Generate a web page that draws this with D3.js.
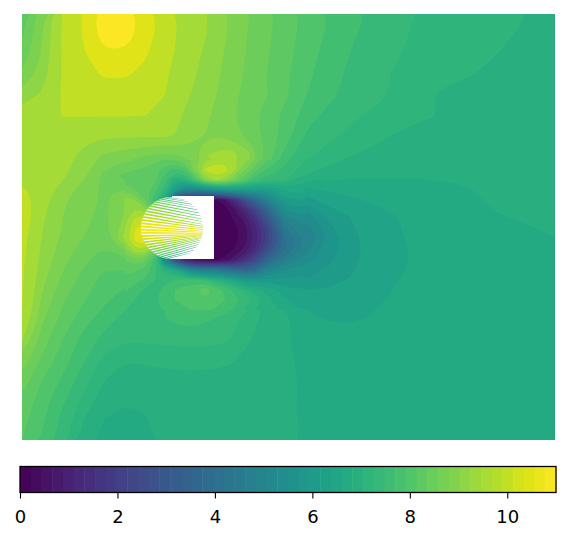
<!DOCTYPE html>
<html>
<head>
<meta charset="utf-8">
<script src="https://cdn.jsdelivr.net/npm/d3@7"></script>
<style>
    html, body { margin: 0; padding: 0; background: #fff; }
    svg { display: block; }
</style>
</head>
<body>
<div id="chart"></div>
<script>
// contour band edges as they look in the plot
const levels = [0, 0.25, 0.6, 0.95, 1.3, 1.65, 2, 2.35, 2.7, 3.05, 3.4, 3.75, 4.1, 4.45, 4.8, 5.15, 5.5, 5.85, 6.2, 6.55,
    6.85, 7.05, 7.25, 7.5, 7.8, 8.1, 8.4, 8.7, 9.0, 9.3, 9.7, 10.2, 10.7, 11.2];

const colorbarTicks = [0, 2, 4, 6, 8, 10];
const colorbarLevelCount = 50;

// whole field, read on a coarse grid (27 columns, 22 rows, top row first)
const fieldRows = [
    [8.25,8.9,9.75,10.25,11,11,10.45,9.95,9.5,9.32,9.0,8.73,8.47,8.23,7.98,7.79,7.6,7.47,7.36,7.26,7.22,7.18,7.15,7.12,7.08,7.04,7.0],
    [8.35,9.0,9.75,10.25,10.95,11,10.45,9.95,9.5,9.3,9.0,8.7,8.45,8.2,7.95,7.75,7.55,7.42,7.33,7.24,7.2,7.16,7.13,7.1,7.05,7.01,6.98],
    [8.5,9.05,9.75,10.15,10.6,10.6,10.25,9.9,9.45,9.25,8.95,8.68,8.42,8.17,7.9,7.68,7.5,7.38,7.3,7.2,7.16,7.12,7.09,7.06,7.01,6.98,6.95],
    [8.75,9.15,9.75,10.02,10.25,10.25,10.1,9.75,9.4,9.2,8.9,8.65,8.38,8.12,7.85,7.6,7.45,7.34,7.25,7.16,7.12,7.08,7.05,7.01,6.98,6.95,6.93],
    [9.15,9.35,9.75,9.9,9.95,9.95,9.85,9.7,9.35,9.15,8.85,8.6,8.4,8.1,7.77,7.56,7.42,7.35,7.24,7.12,7.05,7.01,6.98,6.95,6.93,6.91,6.9],
    [9.5,9.55,9.72,9.72,9.72,9.72,9.71,9.55,9.25,9.05,8.8,8.55,8.25,7.97,7.6,7.42,7.3,7.22,7.13,7.1,7.06,7.02,6.97,6.93,6.91,6.9,6.89],
    [9.65,9.6,9.5,9.4,9.35,9.35,9.35,9.35,9.25,8.98,8.95,8.6,8.3,7.9,7.42,7.3,7.2,7.13,7.05,7.0,6.97,6.95,6.93,6.91,6.9,6.89,6.88],
    [9.6,9.55,9.45,9.2,8.95,8.85,8.7,8.6,8.75,9.3,9.6,9.2,8.3,7.55,7.28,7.15,7.05,7.0,6.98,6.95,6.93,6.92,6.91,6.9,6.89,6.88,6.88],
    [9.6,9.5,9.35,9.05,8.6,8.3,8.2,7.5,7.9,8.9,9.2,8.8,7.95,7.25,7.0,6.95,6.9,6.88,6.87,6.87,6.88,6.89,6.9,6.9,6.9,6.9,6.9],
    [9.9,9.45,9.05,8.85,8.65,9.0,8.4,6.5,1.0,0.3,0.4,2.7,4.6,5.95,6.2,6.42,6.55,6.6,6.66,6.7,6.72,6.75,6.82,6.9,6.94,6.97,6.98],
    [10.0,9.35,9.0,8.8,8.6,9.0,9.9,8,0.5,0,0.05,0.8,2.6,5.1,5.3,5.95,6.2,6.4,6.52,6.6,6.65,6.7,6.76,6.82,6.87,6.92,6.95],
    [9.85,9.28,8.95,8.7,8.55,9.4,10.7,9,0.3,0,0.02,0.45,2.0,4.0,4.85,5.55,6.05,6.35,6.5,6.58,6.6,6.62,6.65,6.68,6.72,6.78,6.85],
    [9.78,9.2,8.8,8.5,8.25,8.4,8.5,6.5,1.0,0.2,0.3,1.4,3.4,4.7,5.35,5.75,6.05,6.3,6.48,6.55,6.58,6.6,6.62,6.64,6.66,6.68,6.7],
    [9.75,9.1,8.65,8.3,8.0,7.95,7.8,7.4,7.9,7.6,6.9,6.0,5.6,5.8,5.85,6.0,6.2,6.4,6.52,6.58,6.62,6.65,6.68,6.7,6.7,6.7,6.7],
    [9.72,8.95,8.45,8.15,7.9,7.65,7.45,7.5,7.9,8.05,7.9,7.45,6.95,6.6,6.42,6.4,6.42,6.5,6.56,6.6,6.65,6.67,6.68,6.7,6.7,6.7,6.7],
    [9.7,8.75,8.3,7.95,7.65,7.42,7.35,7.5,7.65,7.55,7.4,7.15,6.98,6.87,6.6,6.53,6.52,6.56,6.62,6.65,6.66,6.67,6.68,6.7,6.7,6.7,6.7],
    [9.35,8.55,8.1,7.7,7.42,7.28,7.3,7.32,7.35,7.35,7.3,7.08,6.96,6.86,6.72,6.65,6.65,6.65,6.66,6.67,6.68,6.68,6.69,6.7,6.7,6.7,6.7],
    [8.9,8.35,7.95,7.55,7.2,7.06,7.08,7.1,7.12,7.11,7.1,7.0,6.92,6.88,6.78,6.7,6.7,6.7,6.7,6.7,6.7,6.7,6.7,6.7,6.7,6.7,6.7],
    [8.6,8.1,7.75,7.35,7.06,6.98,6.98,7.0,7.0,7.0,6.98,6.95,6.92,6.9,6.78,6.7,6.7,6.7,6.7,6.7,6.7,6.7,6.7,6.7,6.7,6.7,6.7],
    [8.35,7.95,7.55,7.2,6.95,6.87,6.9,6.95,6.96,6.96,6.95,6.94,6.92,6.9,6.78,6.7,6.7,6.7,6.7,6.7,6.7,6.7,6.7,6.7,6.7,6.7,6.7],
    [8.2,7.85,7.4,7.05,6.85,6.78,6.83,6.95,6.96,6.96,6.95,6.94,6.92,6.9,6.78,6.7,6.7,6.7,6.7,6.7,6.7,6.7,6.7,6.7,6.7,6.7,6.7],
    [8.1,7.75,7.35,6.95,6.8,6.75,6.8,6.9,6.95,6.95,6.95,6.94,6.92,6.92,6.8,6.7,6.7,6.7,6.7,6.7,6.7,6.7,6.7,6.7,6.7,6.7,6.7]
];

// closer reading round the body and the start of the wake (19 columns, 16 rows)
const nearRows = [
    [8.78,8.7,8.64,8.5,8.38,8.4,8.54,8.9,9.22,9.45,9.52,9.35,9.12,8.7,8.23,7.9,7.62,7.38,7.25],
    [8.5,8.4,8.3,8.2,7.9,7.7,7.9,8.9,9.75,10.1,9.9,9.35,8.7,8.2,7.8,7.6,7.4,7.27,7.2],
    [8.3,8.2,8.25,8.2,7.6,6.9,7.1,7.8,8.9,9.35,9.15,8.6,8.1,7.6,7.35,7.3,7.25,7.0,6.95],
    [8.6,8.4,8.25,7.9,7.3,6.0,5.0,5.0,5.2,5.6,5.9,5.95,6.0,6.05,6.1,6.3,6.65,6.68,6.72],
    [9.2,9.0,8.4,7.5,6.6,2.0,1.0,0.5,0.3,0.15,0.5,1.5,2.7,3.7,4.6,5.4,6.05,6.15,6.25],
    [9.1,9.3,9.2,8,6,3,1,0.5,0.2,0.05,0.1,0.6,1.3,2.2,3.3,4.5,5.5,5.65,5.75],
    [9.2,9.8,10.2,9,6,3,1,0.5,0.1,0.02,0.03,0.3,0.7,1.5,2.5,3.7,4.9,5.15,5.35],
    [9.3,10.2,10.7,9.5,6,3,1,0.5,0.1,0.01,0.01,0.15,0.45,1.1,2,3.1,4.35,4.75,5.1],
    [9.3,10.3,10.7,9.5,6,3,1,0.5,0.1,0.01,0.01,0.15,0.5,1.1,1.9,2.9,4.0,4.45,4.85],
    [8.9,9.5,9.6,8.5,6,3,1,0.5,0.1,0.03,0.05,0.3,0.7,1.4,2.4,3.4,4.1,4.6,5.05],
    [8.4,8.6,8.5,7.6,5,2.5,1,0.5,0.3,0.2,0.4,0.9,1.6,2.4,3.4,4.2,4.7,5.1,5.4],
    [8.2,8.15,8.0,7.6,7.0,6.8,5.8,5.0,4.6,4.7,4.2,3.9,3.6,3.9,4.8,5.2,5.5,5.6,5.7],
    [8.0,7.9,7.75,7.5,7.4,7.5,7.6,7.6,7.5,7.1,6.9,6.5,6.0,5.9,6.0,5.9,5.95,5.95,5.98],
    [7.85,7.65,7.45,7.4,7.6,7.8,7.95,8.02,8.35,8.0,7.75,7.4,7.15,6.95,6.8,6.6,6.35,6.25,6.25],
    [7.7,7.5,7.4,7.45,7.65,7.8,7.9,8.05,8.05,7.98,7.8,7.6,7.4,7.2,7.0,6.8,6.6,6.45,6.45],
    [7.5,7.4,7.35,7.4,7.55,7.65,7.75,7.85,7.85,7.75,7.6,7.45,7.2,7.05,6.95,6.88,6.8,6.6,6.55]
];

// triangles of the mesh that cross the circle: angle on the left arc, angle on the right arc, value at both ends
const fanLeftAngle = [93,99,105,111,117,123,129,135,141,147,153,159,165,171,177,183,189,195,201,207,213,219,225,231,237,243,249,255,261];
const fanRightAngle = [74,66,58,50,43,36,29,23,17,12,7,3,0,-3,-6,-8,-10,-12,-13,-14,-16,-18,-20,-23,-27,-32,-38,-46,-54];
const fanLeftValue = [7.0,7.5,7.9,8.2,8.5,8.7,8.9,9.1,9.3,9.5,9.7,9.9,10.2,10.5,10.7,10.8,10.7,10.5,10.2,9.9,9.6,9.3,9.0,8.7,8.4,8.1,7.8,7.5,7.0];
const fanRightValue = [1.0,2.5,3.5,4.5,5.2,5.8,6.5,7.2,7.8,8.4,9,9.6,10.1,10.5,10.7,10.8,10.8,10.7,10.6,10.4,10.2,9.8,9.3,8.7,8,7,6,4.5,3];

const width = 570, height = 541;
const plot = { left: 22, right: 554.5, top: 14, bottom: 440 };
const bar = { left: 20, right: 556, top: 466.5, bottom: 492.5 };
const body = { left: 172, right: 214, top: 196, bottom: 259, cx: 172, cy: 228, r: 31 };

const viridis = v => d3.interpolateViridis(v / 11);

const svg = d3.select("#chart").append("svg")
    .attr("width", width)
    .attr("height", height);

const defs = svg.append("defs");

function clipTo(id, x0, y0, x1, y1) {
    defs.append("clipPath").attr("id", id).append("rect")
        .attr("x", x0).attr("y", y0)
        .attr("width", x1 - x0).attr("height", y1 - y0);
}

// draw one grid as stacked filled contours, x0..x1 / y0..y1 are the pixels of the first and last grid point
function drawField(rows, x0, x1, y0, y1, clipId) {
    const m = rows.length, n = rows[0].length;
    const x = d3.scaleLinear().domain([0.5, n - 0.5]).range([x0, x1]);
    const y = d3.scaleLinear().domain([0.5, m - 0.5]).range([y0, y1]);
    // rounded rings so the grid does not show in the band edges
    const ringLine = d3.line()
        .x(p => x(p[0]))
        .y(p => y(p[1]))
        .curve(d3.curveBasisClosed);

    const bands = d3.contours()
        .size([n, m])
        .thresholds(levels.slice(0, -1))(rows.flat());

    svg.append("g")
        .attr("clip-path", `url(#${clipId})`)
        .selectAll("path")
        .data(bands)
        .enter()
        .append("path")
        .attr("d", d => d.coordinates.flat().map(ring => ringLine(ring.slice(0, -1))).join(""))
        .attr("fill", (d, i) => viridis((levels[i] + levels[i + 1]) / 2));
}

clipTo("plot-clip", plot.left, plot.top, plot.right, plot.bottom);
clipTo("near-clip", 125, 160, 305, 310);

drawField(fieldRows, plot.left, plot.right, plot.top, plot.bottom, "plot-clip");
drawField(nearRows, 125, 305, 160, 310, "near-clip");

// hole left by the body
svg.append("rect")
    .attr("x", body.left)
    .attr("y", body.top)
    .attr("width", body.right - body.left)
    .attr("height", body.bottom - body.top)
    .attr("fill", "#fff");
svg.append("circle")
    .attr("cx", body.cx)
    .attr("cy", body.cy)
    .attr("r", body.r)
    .attr("fill", "#fff");

const arcX = a => body.cx + body.r * Math.cos(a * Math.PI / 180);
const arcY = a => body.cy - body.r * Math.sin(a * Math.PI / 180);
const halfBase = 1.9, halfTip = 0.5;

fanLeftAngle.forEach((a, i) => {
    const b = fanRightAngle[i];
    const grad = defs.append("linearGradient")
        .attr("id", "fan-" + i)
        .attr("gradientUnits", "userSpaceOnUse")
        .attr("x1", arcX(a)).attr("y1", arcY(a))
        .attr("x2", arcX(b)).attr("y2", arcY(b));
    // colour stays close to the left value until near the right end
    grad.append("stop").attr("offset", 0).attr("stop-color", viridis(fanLeftValue[i]));
    grad.append("stop").attr("offset", 0.7).attr("stop-color", viridis(fanLeftValue[i] * 0.75 + fanRightValue[i] * 0.25));
    grad.append("stop").attr("offset", 1).attr("stop-color", viridis(fanRightValue[i]));

    svg.append("path")
        .attr("d", d3.line()([
            [arcX(a - halfBase), arcY(a - halfBase)],
            [arcX(a + halfBase), arcY(a + halfBase)],
            [arcX(b - halfTip), arcY(b - halfTip)],
            [arcX(b + halfTip), arcY(b + halfTip)]
        ]) + "Z")
        .attr("fill", `url(#fan-${i})`);
});

// colorbar
const cx = d3.scaleLinear().domain([0, 11]).range([bar.left, bar.right]);
const barSteps = d3.range(colorbarLevelCount).map(i => i * 11 / colorbarLevelCount);

svg.append("g")
    .selectAll("rect")
    .data(barSteps)
    .enter()
    .append("rect")
    .attr("x", d => cx(d))
    .attr("y", bar.top)
    .attr("width", cx(11 / colorbarLevelCount) - cx(0) + 0.5)
    .attr("height", bar.bottom - bar.top)
    .attr("fill", d => viridis(d + 11 / colorbarLevelCount / 2));

svg.append("rect")
    .attr("x", bar.left)
    .attr("y", bar.top)
    .attr("width", bar.right - bar.left)
    .attr("height", bar.bottom - bar.top)
    .attr("fill", "none")
    .attr("stroke", "#000")
    .attr("stroke-width", 1.3);

const axis = svg.append("g")
    .attr("transform", `translate(0,${bar.bottom})`)
    .call(d3.axisBottom(cx).tickValues(colorbarTicks).tickSize(6).tickPadding(11.5).tickFormat(d3.format("d")));
axis.select(".domain").remove();
axis.selectAll("line").attr("stroke", "#000").attr("stroke-width", 1.1);
axis.selectAll("text")
    .attr("fill", "#000")
    .attr("font-family", "DejaVu Sans")
    .attr("font-size", 18);
</script>
</body>
</html>
